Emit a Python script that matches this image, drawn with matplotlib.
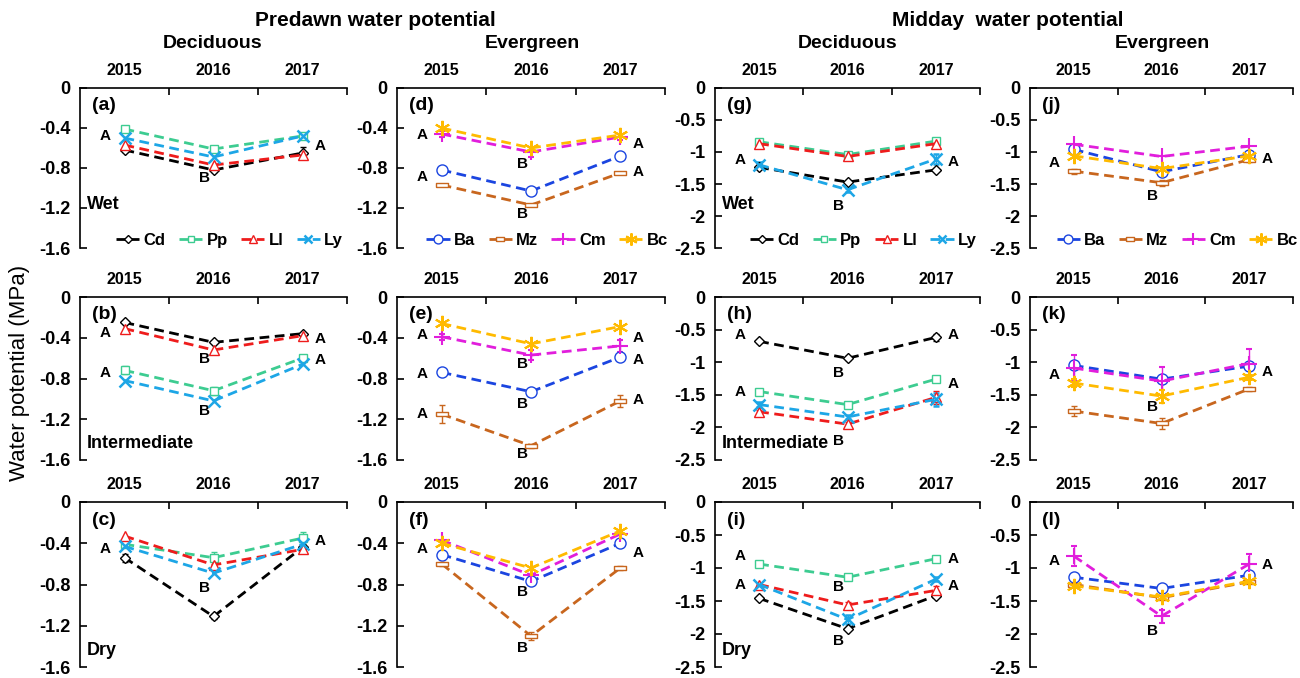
import matplotlib
matplotlib.use("Agg")
import matplotlib.pyplot as plt
from matplotlib.lines import Line2D
import numpy as np

plt.rcParams['font.family'] = ['Liberation Sans', 'DejaVu Sans']
plt.rcParams['axes.unicode_minus'] = False

years = ['2015', '2016', '2017']
deciduous = ['Cd', 'Pp', 'Ll', 'Ly']
evergreen = ['Ba', 'Mz', 'Cm', 'Bc']

# predawn, deciduous (a wet, b intermediate, c dry)
pa = {'Cd': [-0.62, -0.82, -0.65], 'Pp': [-0.41, -0.61, -0.48],
      'Ll': [-0.57, -0.77, -0.67], 'Ly': [-0.50, -0.69, -0.48]}
pb = {'Cd': [-0.25, -0.445, -0.36], 'Pp': [-0.72, -0.92, -0.60],
      'Ll': [-0.31, -0.52, -0.38], 'Ly': [-0.82, -1.02, -0.66]}
pc = {'Cd': [-0.54, -1.11, -0.44], 'Pp': [-0.41, -0.54, -0.35],
      'Ll': [-0.33, -0.61, -0.46], 'Ly': [-0.43, -0.69, -0.41]}
# predawn, evergreen (d, e, f)
pd_ = {'Ba': [-0.82, -1.03, -0.68], 'Mz': [-0.97, -1.17, -0.85],
       'Cm': [-0.46, -0.64, -0.49], 'Bc': [-0.40, -0.60, -0.47]}
pe = {'Ba': [-0.74, -0.93, -0.59], 'Mz': [-1.15, -1.46, -1.02],
      'Cm': [-0.39, -0.57, -0.48], 'Bc': [-0.26, -0.46, -0.29]}
pf = {'Ba': [-0.51, -0.77, -0.40], 'Mz': [-0.60, -1.30, -0.64],
      'Cm': [-0.37, -0.71, -0.31], 'Bc': [-0.40, -0.64, -0.28]}
# midday, deciduous (g, h, i)
pg = {'Cd': [-1.24, -1.47, -1.28], 'Pp': [-0.84, -1.04, -0.83],
      'Ll': [-0.87, -1.07, -0.87], 'Ly': [-1.20, -1.59, -1.11]}
ph = {'Cd': [-0.68, -0.94, -0.62], 'Pp': [-1.45, -1.65, -1.26],
      'Ll': [-1.76, -1.95, -1.54], 'Ly': [-1.65, -1.84, -1.57]}
pi = {'Cd': [-1.46, -1.92, -1.42], 'Pp': [-0.94, -1.14, -0.86],
      'Ll': [-1.25, -1.56, -1.34], 'Ly': [-1.25, -1.78, -1.17]}
# midday, evergreen (j, k, l)
pj = {'Ba': [-0.96, -1.31, -1.04], 'Mz': [-1.30, -1.48, -1.12],
      'Cm': [-0.88, -1.07, -0.91], 'Bc': [-1.06, -1.26, -1.06]}
pk = {'Ba': [-1.05, -1.26, -1.06], 'Mz': [-1.75, -1.94, -1.41],
      'Cm': [-1.09, -1.29, -1.02], 'Bc': [-1.32, -1.52, -1.23]}
pl = {'Ba': [-1.14, -1.31, -1.11], 'Mz': [-1.25, -1.45, -1.21],
      'Cm': [-0.82, -1.73, -0.94], 'Bc': [-1.27, -1.44, -1.20]}

# standard errors that are visible in the figure
errs = {
    'a': {'Cd': [0.02, 0.02, 0.06]},
    'b': {'Pp': [0.04, 0.04, 0.02]},
    'c': {'Cd': [0.04, 0.02, 0.02], 'Pp': [0.02, 0.06, 0.06]},
    'd': {'Cm': [0.03, 0.05, 0.03]},
    'e': {'Mz': [0.09, 0.02, 0.06], 'Cm': [0.03, 0.05, 0.06]},
    'f': {'Mz': [0.02, 0.04, 0.02]},
    'g': {'Ly': [0.04, 0.03, 0.08]},
    'h': {'Cd': [0.02, 0.03, 0.06], 'Ll': [0.03, 0.03, 0.10], 'Ly': [0.04, 0.03, 0.10]},
    'i': {'Ll': [0.03, 0.05, 0.07], 'Ly': [0.03, 0.07, 0.03]},
    'j': {'Ba': [0.03, 0.06, 0.03], 'Mz': [0.04, 0.05, 0.03]},
    'k': {'Cm': [0.20, 0.22, 0.22], 'Bc': [0.06, 0.10, 0.04], 'Mz': [0.08, 0.08, 0.03]},
    'l': {'Cm': [0.15, 0.10, 0.15], 'Ba': [0.03, 0.03, 0.03]},
}

# significance letters: (year index, y value, letter)
letters = {
    'a': [(0, -0.48, 'A'), (1, -0.90, 'B'), (2, -0.58, 'A')],
    'b': [(0, -0.35, 'A'), (0, -0.75, 'A'), (1, -0.61, 'B'), (1, -1.12, 'B'),
          (2, -0.41, 'A'), (2, -0.62, 'A')],
    'c': [(0, -0.46, 'A'), (1, -0.83, 'B'), (2, -0.38, 'A')],
    'd': [(0, -0.47, 'A'), (0, -0.89, 'A'), (1, -0.76, 'B'), (1, -1.26, 'B'),
          (2, -0.56, 'A'), (2, -0.84, 'A')],
    'e': [(0, -0.37, 'A'), (0, -0.76, 'A'), (0, -1.15, 'A'), (1, -0.66, 'B'),
          (1, -1.05, 'B'), (1, -1.54, 'B'), (2, -0.40, 'A'), (2, -0.62, 'A'), (2, -1.01, 'A')],
    'f': [(0, -0.46, 'A'), (1, -0.87, 'B'), (1, -1.42, 'B'), (2, -0.49, 'A')],
    'g': [(0, -1.13, 'A'), (1, -1.85, 'B'), (2, -1.16, 'A')],
    'h': [(0, -0.59, 'A'), (0, -1.45, 'A'), (1, -1.17, 'B'), (1, -2.21, 'B'),
          (2, -0.59, 'A'), (2, -1.33, 'A')],
    'i': [(0, -0.82, 'A'), (0, -1.26, 'A'), (1, -1.29, 'B'), (1, -2.10, 'B'),
          (2, -0.86, 'A'), (2, -1.27, 'A')],
    'j': [(0, -1.17, 'A'), (1, -1.68, 'B'), (2, -1.11, 'A')],
    'k': [(0, -1.20, 'A'), (1, -1.69, 'B'), (2, -1.15, 'A')],
    'l': [(0, -0.89, 'A'), (1, -1.96, 'B'), (2, -0.95, 'A')],
}

rect = [(-1, -0.35), (1, -0.35), (1, 0.35), (-1, 0.35), (-1, -0.35)]
style = {
    'Cd': dict(color='black', marker='D', ms=5, mfc='white'),
    'Pp': dict(color='#3DCC91', marker='s', ms=6, mfc='white'),
    'Ll': dict(color='#EE1C1C', marker='^', ms=7, mfc='white'),
    'Ly': dict(color='#1DA6E6', marker='x', ms=8, mew=1.8),
    'Ba': dict(color='#1B45E0', marker='o', ms=8, mfc='white'),
    'Mz': dict(color='#C8661E', marker=rect, ms=8, mfc='white'),
    'Cm': dict(color='#E11EDC', marker='+', ms=11, mew=1.5),
    'Bc': dict(color='#FFBA00', marker=(6, 2, 0), ms=11, mew=1.5),
}
dash = (0, (3.5, 2))

fig = plt.figure(figsize=(13, 6.78), dpi=100)
W, H = 1300, 678
cols = [(80, 347), (397, 665), (715, 980), (1030, 1293)]
rows = [(88, 248), (297, 460), (502, 667)]

panels = [
    ('a', 0, 0, pa, deciduous, 'Wet'), ('b', 1, 0, pb, deciduous, 'Intermediate'),
    ('c', 2, 0, pc, deciduous, 'Dry'),
    ('d', 0, 1, pd_, evergreen, None), ('e', 1, 1, pe, evergreen, None),
    ('f', 2, 1, pf, evergreen, None),
    ('g', 0, 2, pg, deciduous, 'Wet'), ('h', 1, 2, ph, deciduous, 'Intermediate'),
    ('i', 2, 2, pi, deciduous, 'Dry'),
    ('j', 0, 3, pj, evergreen, None), ('k', 1, 3, pk, evergreen, None),
    ('l', 2, 3, pl, evergreen, None),
]

x = np.arange(1, 4)
for key, r, c, data, species, cond in panels:
    x0, x1 = cols[c]
    y0, y1 = rows[r]
    ax = fig.add_axes([x0 / W, 1 - y1 / H, (x1 - x0) / W, (y1 - y0) / H])
    for sp in species:
        e = errs[key].get(sp)
        ax.errorbar(x, data[sp], yerr=e, ls=dash, lw=2,
                    capsize=2, elinewidth=1, zorder=3, **style[sp])
    for i, yv, t in letters[key]:
        dx = {0: -0.22, 1: -0.1, 2: 0.2}[i]
        ax.text(x[i] + dx, yv, t, ha='center', va='center',
                fontsize=11, fontweight='bold')

    ax.set_xlim(0.5, 3.5)
    if c < 2:
        ax.set_ylim(-1.6, 0)
        yt = [0, -0.4, -0.8, -1.2, -1.6]
    else:
        ax.set_ylim(-2.5, 0)
        yt = [0, -0.5, -1, -1.5, -2, -2.5]
    ax.set_yticks(yt)
    ax.set_yticklabels([f"{v:g}" for v in yt], fontsize=13, fontweight='bold')
    ax.xaxis.tick_top()
    ax.set_xticks(x)
    ax.set_xticklabels(years, fontsize=11.5, fontweight='bold')
    ax.set_xticks([1.5, 2.5, 3.5], minor=True)
    ax.tick_params(axis='x', which='major', length=0, pad=7)
    ax.tick_params(axis='x', which='minor', direction='in', length=5, width=1.2)
    ax.tick_params(axis='y', direction='in', length=5, width=1.2, pad=7)
    for s in ['bottom', 'right']:
        ax.spines[s].set_visible(False)
    for s in ['top', 'left']:
        ax.spines[s].set_linewidth(1.2)
    ax.patch.set_alpha(0)

    ax.text(0.045, 0.89, f"({key})", transform=ax.transAxes, fontsize=14,
            fontweight='bold', va='center', ha='left')
    if cond is not None:
        cy = 0.27 if r == 0 else 0.10
        ax.text(0.025, cy, cond, transform=ax.transAxes, fontsize=13,
                fontweight='bold', va='center', ha='left')
    if r == 0:
        handles = [Line2D([], [], ls=dash, lw=2,
                          **{k: (v * 0.8 if k == 'ms' else v) for k, v in style[sp].items()})
                   for sp in species]
        ax.legend(handles, species, loc='lower center', bbox_to_anchor=(0.56, -0.06),
                  ncol=4, frameon=False, handlelength=1.4, handletextpad=0.25,
                  columnspacing=0.8, borderaxespad=0.2,
                  prop={'weight': 'bold', 'size': 12})

fig.text(375 / W, 1 - 20 / H, 'Predawn water potential', ha='center', va='center',
         fontsize=15, fontweight='bold')
fig.text(1008 / W, 1 - 20 / H, 'Midday  water potential', ha='center', va='center',
         fontsize=15, fontweight='bold')
for xc, t in [(213, 'Deciduous'), (532, 'Evergreen'), (848, 'Deciduous'), (1162, 'Evergreen')]:
    fig.text(xc / W, 1 - 44 / H, t, ha='center', va='center', fontsize=14,
             fontweight='bold')
fig.text(20 / W, 1 - 373 / H, 'Water potential (MPa)', rotation=90, ha='center',
         va='center', fontsize=16)

fig.savefig('out.png', dpi=100)
